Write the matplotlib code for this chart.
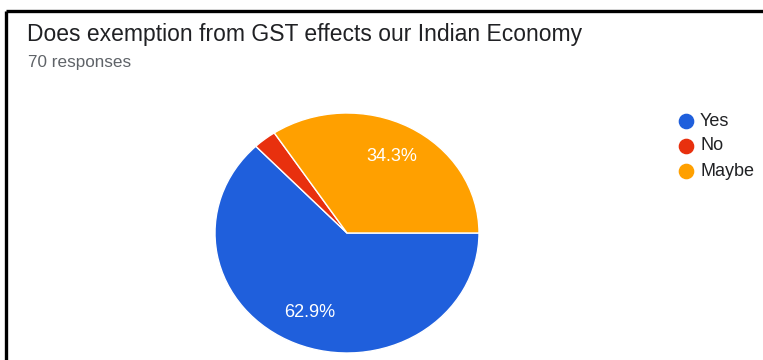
import matplotlib
matplotlib.use("Agg")
import matplotlib.pyplot as plt

plt.rcParams["font.family"] = ["Liberation Sans", "DejaVu Sans"]

TITLE = "Does exemption from GST effects our Indian Economy"
SUBTITLE = "70 responses"
LABELS = ["Yes", "No", "Maybe"]
COUNTS = [44, 2, 24]
COLORS = ["#1f5fdc", "#e8300e", "#ffa000"]

W, H = 763, 360
fig = plt.figure(figsize=(W / 100, H / 100), dpi=100)

# overlay in pixel coordinates for frame, title and legend
ov = fig.add_axes([0, 0, 1, 1])
ov.set_xlim(0, W)
ov.set_ylim(H, 0)
ov.axis("off")

ov.plot([5.5, W], [11, 11], color="black", lw=2.4, solid_capstyle="butt")
ov.plot([5.5, 5.5], [11, H], color="black", lw=2.4, solid_capstyle="butt")

ov.text(27, 34, TITLE, fontsize=16.5, color="#202124", va="center", ha="left")
ov.text(28, 62, SUBTITLE, fontsize=12.3, color="#5f6368", va="center", ha="left")

for i, (lab, col) in enumerate(zip(LABELS, COLORS)):
    y = 121 + i * 25
    ov.scatter([686], [y], s=105, color=col, zorder=3)
    ov.text(700, y, lab, fontsize=13, color="#202124", va="center", ha="left")

# pie axes, slightly wider than tall
cx, cy, rx, ry = 347, 233, 132, 120
pad = 1.1
pax = fig.add_axes([(cx - rx * pad) / W, 1 - (cy + ry * pad) / H,
                    2 * rx * pad / W, 2 * ry * pad / H])


def pct(p):
    return f"{p:.1f}%" if p >= 5 else ""


wedges, texts, autotexts = pax.pie(
    COUNTS, colors=COLORS, startangle=0, counterclock=False,
    autopct=pct, pctdistance=0.72, frame=True,
    wedgeprops=dict(edgecolor="white", linewidth=1.0),
    textprops=dict(color="white", fontsize=13),
)
pax.set_aspect("auto")
pax.set_xlim(-pad, pad)
pax.set_ylim(-pad, pad)
pax.axis("off")

fig.savefig("out.png", dpi=100)
